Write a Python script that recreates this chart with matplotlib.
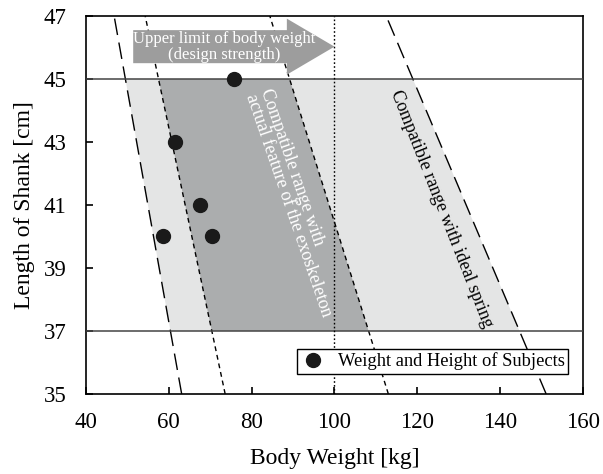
import numpy as np
import matplotlib
matplotlib.use("Agg")
import matplotlib.pyplot as plt

plt.rcParams["font.family"] = ["Liberation Serif", "DejaVu Serif"]

# shank length range of the boundary lines [cm]
line_len = [35, 47]
# body weight where each boundary line meets 35 cm and 47 cm
ideal_left = [63.1, 46.8]
ideal_right = [151.1, 112.5]
actual_left = [73.6, 54.3]
actual_right = [113.0, 84.4]

# limits
shank_min = 37
shank_max = 45
weight_limit = 100

# subjects
subj_weight = [75.7, 61.5, 67.5, 58.6, 70.4]
subj_shank = [45, 43, 41, 40, 40]

arrow_from = 51.4
arrow_y = 46.03

fig = plt.figure(figsize=(6.03, 4.74), dpi=100)
ax = fig.add_axes([0.1426, 0.169, 0.8242, 0.797])


def x_at(line, y):
    # line is given by weight at 35 and 47 cm
    return np.interp(y, line_len, line)


band = np.array([shank_min, shank_max])

# light band: ideal spring range
xs = np.concatenate([x_at(ideal_left, band), x_at(ideal_right, band[::-1])])
ys = np.concatenate([band, band[::-1]])
ax.fill(xs, ys, color="#e4e5e5", lw=0, zorder=1)

# dark band: actual exoskeleton range
xs = np.concatenate([x_at(actual_left, band), x_at(actual_right, band[::-1])])
ax.fill(xs, ys, color="#abadae", lw=0, zorder=2)

# boundary lines
for ln in [ideal_left, ideal_right]:
    ax.plot(ln, line_len, color="black", lw=1.0, dashes=(12, 5.5), zorder=3)
for ln in [actual_left, actual_right]:
    ax.plot(ln, line_len, color="black", lw=1.0, dashes=(3.5, 2.8), zorder=3)

ax.axhline(shank_max, color="#444444", lw=1.1, zorder=3)
ax.axhline(shank_min, color="#444444", lw=1.1, zorder=3)
ax.axvline(weight_limit, color="black", lw=1.0, dashes=(1.2, 1.6), zorder=3)

# arrow for the design strength
ax.arrow(arrow_from, arrow_y, weight_limit - arrow_from, 0, width=1.05,
         head_width=1.78, head_length=11.5, length_includes_head=True,
         color="#9d9d9d", lw=0, zorder=4)
ax.text(73.3, 46.02, "Upper limit of body weight\n(design strength)",
        color="white", fontsize=12, ha="center", va="center",
        linespacing=0.95, zorder=5)

ax.text(90.7, 41.08, "Compatible range with\nactual feature of the exoskeleton",
        color="white", fontsize=13, rotation=-71, rotation_mode="anchor",
        ha="center", va="center", multialignment="left",
        linespacing=0.95, zorder=5)
ax.text(125.7, 40.86, "Compatible range with ideal spring",
        color="black", fontsize=13, rotation=-68.5, rotation_mode="anchor",
        ha="center", va="center", zorder=5)

ax.plot(subj_weight, subj_shank, "o", color="#1a1a1a", ms=10, ls="none",
        label="Weight and Height of Subjects", zorder=6)

ax.set_xlim(40, 160)
ax.set_ylim(35, 47)
ax.set_xticks(np.arange(40, 161, 20))
ax.set_yticks(np.arange(35, 48, 2))
ax.tick_params(direction="in", length=5, width=1.2, labelsize=16.5,
               top=False, right=False)
ax.tick_params(axis="x", pad=13)
ax.tick_params(axis="y", pad=14)
for s in ax.spines.values():
    s.set_linewidth(1.2)

ax.set_xlabel("Body Weight [kg]", fontsize=17, labelpad=11)
ax.set_ylabel("Length of Shank [cm]", fontsize=17, labelpad=6)

leg = ax.legend(loc="lower right", bbox_to_anchor=(0.97, 0.053),
                borderaxespad=0, fontsize=13.3, frameon=True, fancybox=False,
                handletextpad=0.6, borderpad=0.2, handlelength=1.4)
leg.get_frame().set_edgecolor("black")
leg.get_frame().set_linewidth(1.0)
leg.get_frame().set_alpha(1)

fig.savefig("out.png", dpi=100)
